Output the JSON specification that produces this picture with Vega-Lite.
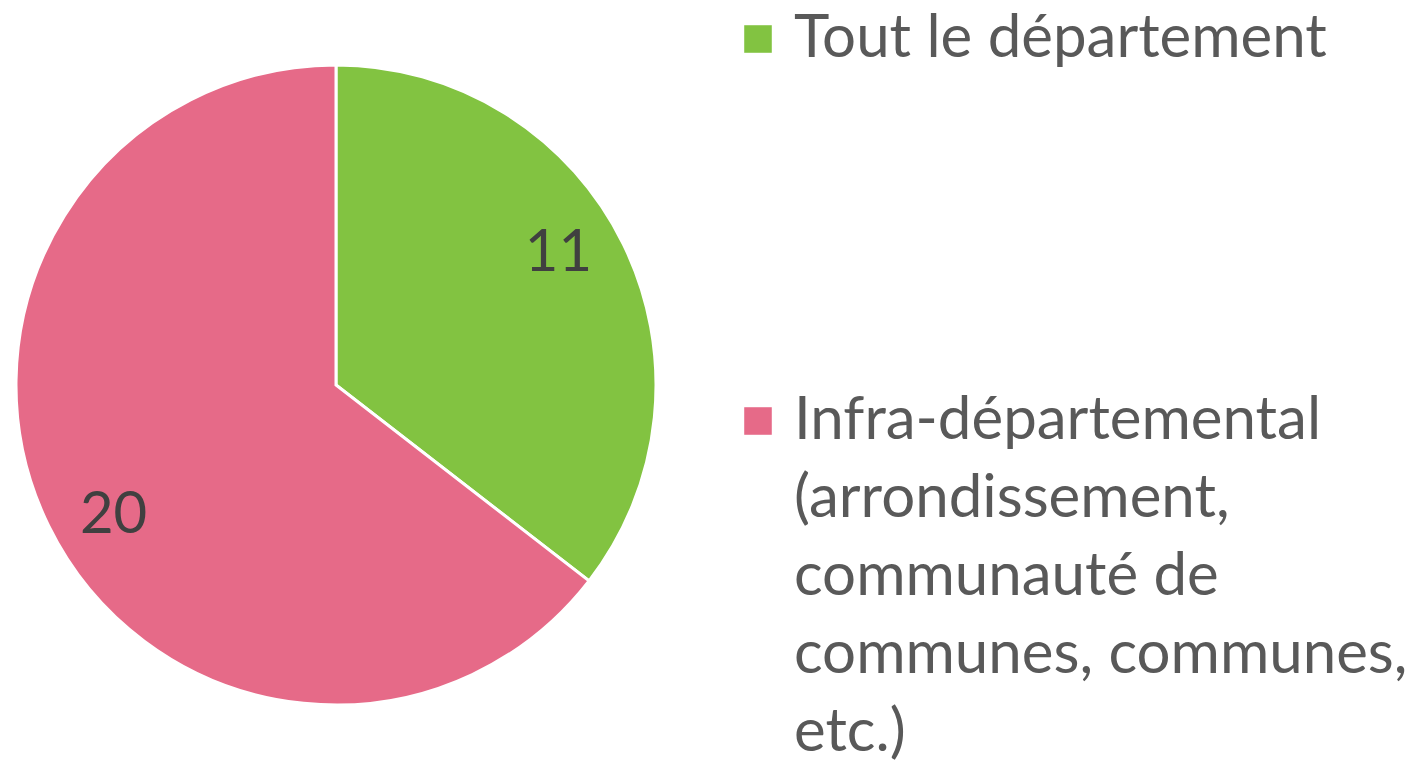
{
  "$schema": "https://vega.github.io/schema/vega-lite/v6.json",
  "width": 672,
  "height": 758,
  "padding": {"top": 6, "left": 0, "right": 0, "bottom": 0},
  "background": "white",
  "config": {"view": {"stroke": null}, "font": "Lato", "style": {"guide-label": {"lineHeight": 78}}},
  "data": {
    "values": [
      {"categorie": "Tout le département", "valeur": 11, "ordre": 1},
      {"categorie": "Infra-départemental (arrondissement, communauté de communes, communes, etc.)", "valeur": 20, "ordre": 2}
    ]
  },
  "encoding": {
    "theta": {"field": "valeur", "type": "quantitative", "stack": true},
    "order": {"field": "ordre", "type": "quantitative"}
  },
  "layer": [
    {
      "mark": {"type": "arc", "outerRadius": 320, "stroke": "white", "strokeWidth": 3},
      "encoding": {
        "color": {
          "field": "categorie",
          "type": "nominal",
          "scale": {
            "domain": ["Tout le département", "Infra-départemental (arrondissement, communauté de communes, communes, etc.)"],
            "range": ["#82C341", "#E66A88"]
          },
          "legend": {
            "title": null,
            "orient": "none",
            "legendX": 728,
            "legendY": 3,
            "symbolType": "square",
            "symbolSize": 760,
            "symbolStrokeWidth": 0,
            "labelFont": "Lato",
            "labelFontSize": 60,
            "labelColor": "#595959",
            "labelLimit": 800,
            "labelOffset": 6,
            "labelBaseline": "middle",
            "labelExpr": "datum.label == 'Tout le département' ? datum.label : ['Infra-départemental', '(arrondissement,', 'communauté de', 'communes, communes,', 'etc.)']",
            "rowPadding": 322,
            "encode": {"labels": {"enter": {"lineHeight": {"value": 78}}, "update": {"lineHeight": {"value": 78}}}}
          }
        }
      }
    },
    {
      "mark": {"type": "text", "radius": 258, "thetaOffset": -0.075, "font": "Lato", "fontSize": 58, "fill": "#404040"},
      "encoding": {"text": {"field": "valeur", "type": "quantitative"}}
    }
  ]
}
